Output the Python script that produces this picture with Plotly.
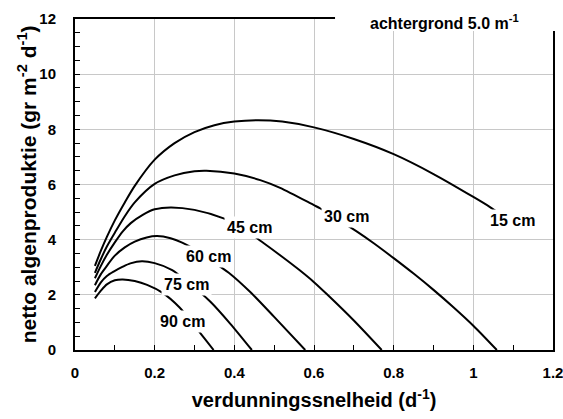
import plotly.graph_objects as go

# dilution rate (d^-1) and net algal production (gr m^-2 d^-1) per water depth
v15 = [0.05, 0.065, 0.08, 0.1, 0.125, 0.15, 0.2, 0.25, 0.3, 0.35, 0.4, 0.46, 0.52, 0.6, 0.7, 0.8, 0.9, 1.0, 1.04, 1.08]
p15 = [3.05, 3.6, 4.1, 4.7, 5.35, 5.95, 6.9, 7.5, 7.9, 8.15, 8.28, 8.33, 8.28, 8.07, 7.65, 7.1, 6.38, 5.55, 5.2, 4.8]

v30 = [0.05, 0.065, 0.08, 0.1, 0.125, 0.15, 0.2, 0.25, 0.3, 0.33, 0.4, 0.465, 0.515, 0.6, 0.616, 0.66, 0.708, 0.75, 0.8, 0.85, 0.9, 0.95, 1.0, 1.059]
p30 = [2.8, 3.3, 3.75, 4.25, 4.85, 5.35, 6.02, 6.33, 6.48, 6.5, 6.4, 6.16, 5.88, 5.25, 5.13, 4.73, 4.29, 3.87, 3.33, 2.77, 2.18, 1.55, 0.88, 0.0]

v45 = [0.05, 0.065, 0.08, 0.1, 0.12, 0.14, 0.17, 0.2, 0.24, 0.3, 0.373, 0.42, 0.474, 0.52, 0.565, 0.6, 0.632, 0.7, 0.77]
p45 = [2.6, 3.05, 3.45, 3.9, 4.3, 4.6, 4.9, 5.1, 5.17, 5.08, 4.77, 4.42, 3.87, 3.38, 2.88, 2.46, 2.03, 1.07, 0.0]

v60 = [0.05, 0.065, 0.08, 0.1, 0.125, 0.15, 0.18, 0.206, 0.24, 0.269, 0.3, 0.336, 0.386, 0.44, 0.5, 0.578]
p60 = [2.35, 2.75, 3.05, 3.42, 3.72, 3.93, 4.08, 4.13, 4.05, 3.89, 3.65, 3.3, 2.8, 2.1, 1.2, 0.0]

v75 = [0.05, 0.065, 0.08, 0.097, 0.12, 0.139, 0.168, 0.2, 0.244, 0.28, 0.34, 0.39, 0.444]
p75 = [2.1, 2.45, 2.68, 2.84, 3.02, 3.14, 3.22, 3.15, 2.9, 2.5, 1.75, 0.95, 0.0]

v90 = [0.05, 0.065, 0.08, 0.1, 0.12, 0.15, 0.181, 0.219, 0.262, 0.3, 0.325, 0.348]
p90 = [1.87, 2.15, 2.38, 2.53, 2.56, 2.5, 2.36, 2.08, 1.55, 0.88, 0.42, 0.0]

series = [("15 cm", v15, p15), ("30 cm", v30, p30), ("45 cm", v45, p45),
          ("60 cm", v60, p60), ("75 cm", v75, p75), ("90 cm", v90, p90)]

# label positions (data coordinates)
label_names = ["15 cm", "30 cm", "45 cm", "60 cm", "75 cm", "90 cm"]
label_x = [1.099, 0.681, 0.438, 0.336, 0.281, 0.271]
label_y = [4.68, 4.83, 4.43, 3.38, 2.36, 1.03]

x_tickvals = [0, 0.2, 0.4, 0.6, 0.8, 1.0, 1.2]
x_ticktext = ["0", "0.2", "0.4", "0.6", "0.8", "1", "1.2"]
y_tickvals = [0, 2, 4, 6, 8, 10, 12]
y_ticktext = ["0", "2", "4", "6", "8", "10", "12"]

x_title = "verdunningssnelheid (d<sup>-1</sup>)"
y_title = "netto algenproduktie (gr m<sup>-2</sup> d<sup>-1</sup>)"
corner_text = "achtergrond 5.0 m<sup>-1</sup>"

FONT = "Liberation Sans, Arial, sans-serif"

fig = go.Figure()
for name, xs, ys in series:
    fig.add_trace(go.Scatter(x=xs, y=ys, mode="lines", name=name,
                             line=dict(color="black", width=2, shape="spline", smoothing=0.8),
                             showlegend=False, hoverinfo="skip"))

for t, lx, ly in zip(label_names, label_x, label_y):
    fig.add_annotation(x=lx, y=ly, xref="x", yref="y", text="<b>" + t + "</b>", showarrow=False,
                       xanchor="center", yanchor="middle",
                       font=dict(family=FONT, size=16, color="black"),
                       bgcolor="white", borderpad=2)

# white box interrupting the frame top-right, with the background note
fig.add_shape(type="rect", xref="paper", yref="paper", x0=0.544, x1=1.05, y0=0.964, y1=1.2,
              fillcolor="white", line=dict(width=0), layer="above")
fig.add_annotation(x=0.774, y=0.99, xref="paper", yref="paper", text="<b>" + corner_text + "</b>",
                   xanchor="center", yanchor="middle",
                   showarrow=False, font=dict(family=FONT, size=16, color="black"))

# y-axis title as rotated annotation for exact placement
fig.add_annotation(x=-0.101, y=0.5, xref="paper", yref="paper", text="<b>" + y_title + "</b>",
                   textangle=-90, xanchor="center", yanchor="middle", showarrow=False,
                   font=dict(family=FONT, size=21, color="black"))

axis_common = dict(showline=True, linecolor="black", linewidth=2, mirror=True,
                   ticks="inside", ticklen=5, tickwidth=1, tickcolor="black",
                   showgrid=True, gridcolor="#c8c8c8", gridwidth=1, zeroline=False,
                   ticklabeloverflow="allow",
                   tickfont=dict(family=FONT, size=15, color="black"))

fig.update_xaxes(range=[0, 1.2], tickmode="array", tickvals=x_tickvals,
                 ticktext=["<b>" + t + "</b>" for t in x_ticktext],
                 minor=dict(dtick=0.1, tick0=0, ticks="inside", ticklen=5, tickcolor="black", showgrid=False),
                 title=dict(text="<b>" + x_title + "</b>", font=dict(family=FONT, size=20, color="black"),
                            standoff=13),
                 ticklabelstandoff=8, **axis_common)
fig.update_yaxes(range=[0, 12], tickmode="array", tickvals=y_tickvals,
                 ticktext=["<b>" + t + "</b>" for t in y_ticktext],
                 minor=dict(dtick=0.5, tick0=0, ticks="inside", ticklen=5, tickcolor="black", showgrid=False),
                 ticklabelstandoff=14, **axis_common)

fig.update_layout(width=563, height=419, margin=dict(l=75, r=10, t=19, b=69, autoexpand=False),
                  plot_bgcolor="white", paper_bgcolor="white", hovermode=False,
                  font=dict(family=FONT, color="black"))

fig.write_html("out.html", config={"displayModeBar": False},
               post_script="document.body.style.margin='0';document.body.style.padding='0';")
